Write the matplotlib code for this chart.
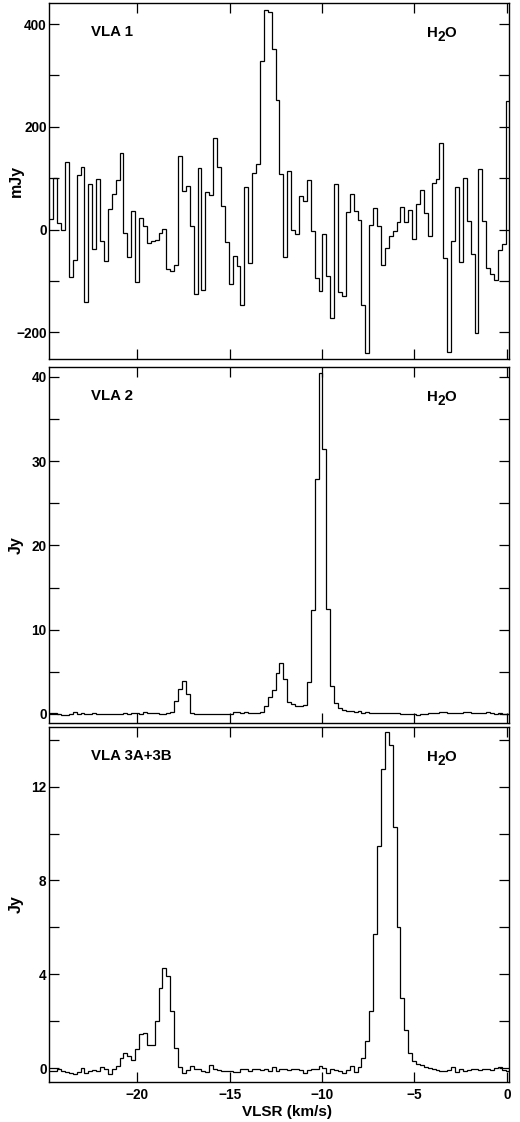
import matplotlib
matplotlib.use("Agg")
import matplotlib.pyplot as plt
import numpy as np
from matplotlib.ticker import MultipleLocator
from matplotlib.transforms import offset_copy

plt.rcParams['font.family'] = ['Liberation Sans', 'DejaVu Sans']
plt.rcParams['font.weight'] = 'bold'

# velocity channels (km/s)
v_start = -24.76
dv = 0.2111
n_chan = 118

# VLA 1 (mJy)
vla1 = [20, 100, 12, -1, 132, -92, -60, 106, 121, -141,
        88, -37, 99, -22, -61, 41, 69, 97, 150, -6,
        -53, 36, -102, 23, 7, -27, -22, -21, -7, 2,
        -76, -81, -68, 143, 75, 84, 6, -126, 119, -118,
        74, 67, 178, 122, 46, -24, -105, -52, -70, -147,
        82, -66, 110, 127, 328, 427, 423, 352, 253, 108,
        -53, 114, -1, -9, 65, 56, 97, -3, -94, -120,
        -9, -91, -173, 88, -122, -129, 34, 70, 36, 18,
        -146, -241, 8, 42, 6, -68, -35, -12, -3, 15,
        44, 14, 38, -18, 49, 77, 32, -13, 91, 98,
        168, -56, -239, -23, 83, -64, 101, 17, -47, -201,
        117, 17, -74, -86, -99, -40, -29, 251]

# VLA 2 (Jy)
vla2 = [0.08, 0.1, -0.04, -0.16, -0.14, 0.0, 0.2, 0.0, 0.16, 0.0,
        -0.02, 0.06, 0.02, 0.02, 0.02, -0.02, 0.02, -0.02, 0.02, 0.06,
        -0.02, 0.06, 0.16, 0.02, 0.2, 0.16, 0.06, 0.06, -0.04, 0.02,
        0.06, 0.2, 1.5, 3.0, 3.95, 2.4, 0.15, 0.02, 0.0, 0.02,
        0.0, 0.02, -0.02, 0.02, 0.0, 0.02, 0.02, 0.2, 0.2, 0.16,
        0.2, 0.16, 0.08, 0.12, 0.2, 0.9, 2.0, 2.9, 4.9, 6.0,
        4.1, 1.4, 1.15, 1.0, 1.0, 1.05, 3.8, 12.3, 27.9, 40.4,
        31.4, 12.45, 3.3, 1.26, 0.67, 0.47, 0.38, 0.32, 0.25, 0.3,
        0.12, 0.2, 0.15, 0.1, 0.12, 0.08, 0.1, 0.12, 0.08, 0.1,
        0.05, 0.02, 0.0, -0.05, -0.1, 0.0, 0.05, 0.08, 0.1, 0.15,
        0.18, 0.2, 0.15, 0.12, 0.1, 0.15, 0.2, 0.18, 0.12, 0.08,
        0.1, 0.15, 0.2, 0.15, 0.05, 0.1, 0.0, 0.05]

# VLA 3A+3B (Jy)
vla3 = [-0.11, -0.11, -0.04, -0.1, -0.16, -0.2, -0.25, -0.14, 0.01, -0.18,
        -0.1, -0.07, -0.13, 0.07, -0.01, -0.24, -0.01, 0.1, 0.44, 0.67,
        0.53, 0.36, 0.81, 1.45, 1.49, 0.98, 1.0, 2.03, 3.44, 4.29,
        3.95, 2.44, 0.88, 0.07, -0.18, -0.07, 0.1, -0.04, -0.01, -0.13,
        -0.17, 0.13, -0.04, -0.07, -0.1, -0.11, -0.1, -0.16, -0.14, -0.04,
        -0.01, -0.13, -0.04, -0.01, -0.07, -0.01, -0.11, 0.07, -0.13, -0.04,
        -0.03, -0.07, -0.03, -0.04, -0.07, -0.21, -0.07, -0.04, -0.01, 0.1,
        0.03, -0.18, -0.04, -0.07, -0.1, -0.18, -0.07, 0.1, -0.16, 0.04,
        0.46, 1.15, 2.44, 5.72, 9.45, 12.76, 14.32, 13.78, 10.26, 6.0,
        3.01, 1.63, 0.64, 0.3, 0.18, 0.14, 0.07, 0.0, -0.04, -0.07,
        -0.1, -0.13, -0.07, 0.07, -0.16, -0.01, -0.11, -0.07, -0.04, -0.01,
        -0.07, -0.03, -0.01, -0.07, 0.01, 0.07, -0.07, -0.1]

edges = v_start + dv * np.arange(n_chan + 1)

panels = [
    (vla1, "VLA 1", "mJy", (-252, 441), 200, 100),
    (vla2, "VLA 2", "Jy", (-1.07, 41.15), 10, 5),
    (vla3, "VLA 3A+3B", "Jy", (-0.58, 14.54), 4, 2),
]
# axes rectangles [left, bottom, width, height] in figure fraction
rects = [
    [0.0948, 0.6800, 0.8850, 0.3173],
    [0.0948, 0.3556, 0.8850, 0.3173],
    [0.0948, 0.0357, 0.8850, 0.3164],
]

fig = plt.figure(figsize=(5.2, 11.22), dpi=100)

for k, (vals, name, unit, ylim, major, minor) in enumerate(panels):
    ax = fig.add_axes(rects[k])
    ax.stairs(vals, edges, baseline=None, color='black', lw=0.9)
    ax.set_xlim(-24.76, 0.14)
    ax.set_ylim(*ylim)
    ax.xaxis.set_major_locator(MultipleLocator(5))
    ax.yaxis.set_major_locator(MultipleLocator(major))
    ax.yaxis.set_minor_locator(MultipleLocator(minor))
    ax.tick_params(which='both', direction='in', top=True, right=True,
                   length=7, width=0.9, labelsize=9.8, pad=2)
    ax.tick_params(axis='x', pad=4)
    for s in ax.spines.values():
        s.set_linewidth(1.0)
    ax.set_ylabel(unit, fontsize=11.5, fontweight='bold')
    ax.yaxis.set_label_coords(-0.055, 0.5)
    ax.text(0.09, 0.918, name, transform=ax.transAxes, fontsize=10.8,
            fontweight='bold', va='center', ha='left')

    # H2O label with a near full-size, lowered subscript
    ax.text(0.82, 0.915, "H", transform=ax.transAxes, fontsize=10.8,
            fontweight='bold', va='center', ha='left')
    ax.text(0.82, 0.915, "2",
            transform=offset_copy(ax.transAxes, fig, x=11, y=-4, units='dots'),
            fontsize=9.8, fontweight='bold', va='center', ha='left')
    ax.text(0.82, 0.915, "O",
            transform=offset_copy(ax.transAxes, fig, x=18, y=0, units='dots'),
            fontsize=10.8, fontweight='bold', va='center', ha='left')

    if k < 2:
        ax.set_xticklabels([])
    else:
        ax.set_xlabel("VLSR (km/s)", fontsize=11, fontweight='bold')
        ax.xaxis.set_label_coords(0.5176, -0.065)

fig.savefig("out.png", dpi=100)
